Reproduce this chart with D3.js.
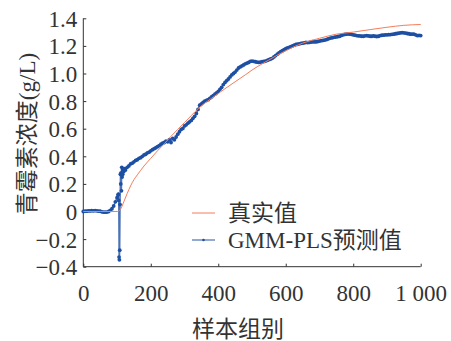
<!DOCTYPE html>
<html>
<head>
<meta charset="utf-8">
<script src="https://cdn.jsdelivr.net/npm/d3@7"></script>
<style>
  body { margin: 0; background: #fff; }
  svg text { font-family: "Liberation Serif", "Noto Sans CJK SC", serif; fill: #333; }
</style>
</head>
<body>
<svg id="chart" width="451" height="341"></svg>
<script>
// x ticks / y ticks as drawn on the figure
const xTicks = [0, 200, 400, 600, 800, 1000];
const yTicks = [-0.4, -0.2, 0, 0.2, 0.4, 0.6, 0.8, 1.0, 1.2, 1.4];

// true value curve (sample, g/L)
const trueX = [0, 50, 100, 105, 110, 120, 130, 140, 150, 160, 180, 200, 220, 240, 260, 280, 300, 320, 340, 360, 380, 400, 420, 450, 480, 500, 530, 550, 580, 600, 630, 650, 700, 750, 800, 850, 900, 950, 1000];
const trueY = [0, 0, 0, 0.003, 0.015, 0.07, 0.13, 0.185, 0.23, 0.265, 0.33, 0.385, 0.44, 0.49, 0.545, 0.595, 0.645, 0.695, 0.745, 0.785, 0.82, 0.855, 0.89, 0.94, 0.99, 1.025, 1.07, 1.098, 1.14, 1.165, 1.2, 1.22, 1.255, 1.285, 1.30, 1.318, 1.335, 1.349, 1.355];

// GMM-PLS predicted values
const predX = [0, 5, 10, 15, 20, 25, 30, 35, 40, 45, 50, 55, 60, 65, 70, 75, 80, 85, 90, 95, 100, 103, 104, 105, 106, 107, 108, 109, 110, 111, 112, 113, 114, 115, 116, 117, 118, 120, 122, 125, 130, 135, 140, 145, 150, 155, 160, 165, 170, 175, 180, 185, 190, 195, 200, 205, 210, 215, 220, 225, 230, 235, 240, 245, 250, 255, 260, 265, 270, 275, 280, 285, 290, 295, 300, 305, 310, 315, 320, 325, 330, 335, 340, 345, 350, 355, 360, 365, 370, 375, 380, 385, 390, 395, 400, 405, 410, 415, 420, 425, 430, 435, 440, 445, 450, 455, 460, 465, 470, 475, 480, 485, 490, 495, 500, 505, 510, 515, 520, 525, 530, 535, 540, 545, 550, 555, 560, 565, 570, 575, 580, 585, 590, 595, 600, 605, 610, 615, 620, 625, 630, 635, 640, 645, 650, 655, 660, 665, 670, 675, 680, 685, 690, 695, 700, 705, 710, 715, 720, 725, 730, 735, 740, 745, 750, 755, 760, 765, 770, 775, 780, 785, 790, 795, 800, 805, 810, 815, 820, 825, 830, 835, 840, 845, 850, 855, 860, 865, 870, 875, 880, 885, 890, 895, 900, 905, 910, 915, 920, 925, 930, 935, 940, 945, 950, 955, 960, 965, 970, 975, 980, 985, 990, 995, 1000];
const predY = [0.0, 0.003, 0.002, 0.005, 0.004, 0.006, 0.005, 0.007, 0.005, 0.003, 0.002, -0.002, -0.004, -0.005, -0.004, 0.0, 0.008, 0.02, 0.04, 0.07, 0.1, 0.12, 0.125, 0.08, -0.33, -0.35, -0.28, 0.05, 0.27, 0.2, 0.28, 0.15, 0.32, 0.25, 0.3, 0.27, 0.31, 0.29, 0.31, 0.3, 0.32, 0.33, 0.345, 0.35, 0.36, 0.37, 0.375, 0.385, 0.39, 0.4, 0.41, 0.415, 0.425, 0.43, 0.44, 0.448, 0.455, 0.462, 0.47, 0.478, 0.488, 0.495, 0.5, 0.51, 0.505, 0.52, 0.5, 0.53, 0.52, 0.54, 0.56, 0.578, 0.595, 0.602, 0.62, 0.628, 0.64, 0.65, 0.66, 0.675, 0.69, 0.71, 0.74, 0.77, 0.78, 0.79, 0.8, 0.805, 0.81, 0.82, 0.83, 0.84, 0.85, 0.86, 0.87, 0.885, 0.9, 0.92, 0.935, 0.948, 0.96, 0.975, 0.99, 1.0, 1.01, 1.025, 1.04, 1.048, 1.055, 1.062, 1.07, 1.075, 1.08, 1.088, 1.09, 1.088, 1.085, 1.082, 1.08, 1.083, 1.085, 1.087, 1.09, 1.095, 1.1, 1.105, 1.11, 1.12, 1.13, 1.14, 1.15, 1.158, 1.165, 1.172, 1.18, 1.185, 1.19, 1.195, 1.2, 1.205, 1.21, 1.212, 1.215, 1.218, 1.22, 1.222, 1.225, 1.224, 1.225, 1.228, 1.23, 1.229, 1.23, 1.232, 1.235, 1.238, 1.24, 1.242, 1.245, 1.25, 1.255, 1.258, 1.26, 1.263, 1.265, 1.268, 1.27, 1.276, 1.28, 1.283, 1.285, 1.287, 1.285, 1.283, 1.28, 1.278, 1.275, 1.273, 1.272, 1.27, 1.27, 1.273, 1.275, 1.272, 1.27, 1.27, 1.272, 1.27, 1.268, 1.27, 1.275, 1.277, 1.278, 1.28, 1.28, 1.281, 1.282, 1.284, 1.285, 1.288, 1.29, 1.292, 1.295, 1.296, 1.295, 1.293, 1.29, 1.288, 1.285, 1.286, 1.285, 1.28, 1.275, 1.276, 1.275];

const legendLabels = ['真实值', 'GMM-PLS预测值'];
const trueColour = '#f47d5b';
const predColour = '#1d4fa3';

const svg = d3.select('#chart');

// plot box
const plotLeft = 83.3, plotRight = 420.7, plotTop = 18.3, plotBottom = 266.7;

const x = d3.scaleLinear().domain([0, 1000]).range([plotLeft, plotRight]);
const y = d3.scaleLinear().domain([-0.4, 1.4]).range([plotBottom, plotTop]);

const fmtY = d => d === 0 ? '0' : d3.format('.1f')(d).replace('-', '\u2212');
const fmtX = d => d === 1000 ? '1 000' : String(d);

// axes, ticks pointing into the plot
const yAxis = d3.axisLeft(y).tickValues(yTicks).tickSize(-3).tickPadding(6).tickFormat(fmtY);
const xAxis = d3.axisBottom(x).tickValues(xTicks).tickSize(-3).tickPadding(18).tickFormat(fmtX);

svg.append('g').attr('transform', `translate(${plotLeft},0)`).call(yAxis)
    .call(g => g.select('.domain').attr('stroke', '#333').attr('d', `M0,${plotTop}V${plotBottom}`))
    .call(g => g.selectAll('.tick line').attr('stroke', '#333'))
    .call(g => g.selectAll('.tick text').style('font-size', '23px').attr('dy', '0.35em'));

svg.append('g').attr('transform', `translate(0,${plotBottom})`).call(xAxis)
    .call(g => g.select('.domain').attr('stroke', '#333').attr('d', `M${plotLeft},0H${plotRight}`))
    .call(g => g.selectAll('.tick line').attr('stroke', '#333'))
    .call(g => g.selectAll('.tick text').style('font-size', '23px'));

// curves
const trueData = trueX.map((d, i) => [d, trueY[i]]);
const predData = predX.map((d, i) => [d, predY[i]]);

const line = d3.line().x(d => x(d[0])).y(d => y(d[1]));

svg.append('path').datum(predData)
    .attr('fill', 'none').attr('stroke', predColour).attr('stroke-width', 1.4).attr('opacity', 0.8)
    .attr('d', line);

// dense markers give the thick, rough blue band
svg.append('g').selectAll('circle').data(predData).join('circle')
    .attr('cx', d => x(d[0])).attr('cy', d => y(d[1])).attr('r', 1.9)
    .attr('fill', predColour);

svg.append('path').datum(trueData)
    .attr('fill', 'none').attr('stroke', trueColour).attr('stroke-width', 1)
    .attr('d', d3.line().curve(d3.curveMonotoneX).x(d => x(d[0])).y(d => y(d[1])));

// legend
const legend = svg.append('g').attr('transform', 'translate(192,213)');
legend.append('line').attr('x1', 0).attr('x2', 23).attr('y1', 0).attr('y2', 0)
    .attr('stroke', trueColour).attr('stroke-width', 1);
legend.append('line').attr('x1', 0).attr('x2', 23).attr('y1', 27).attr('y2', 27)
    .attr('stroke', predColour).attr('stroke-width', 1.2).attr('opacity', 0.8);
legend.append('circle').attr('cx', 11.5).attr('cy', 27).attr('r', 1.3).attr('fill', predColour);
legend.selectAll('text').data(legendLabels).join('text')
    .attr('x', 36).attr('y', (d, i) => i * 27 + 8)
    .style('font-size', '23px')
    .text(d => d);

// axis titles
svg.append('text').attr('x', 238).attr('y', 337).attr('text-anchor', 'middle')
    .style('font-size', '23px').text('样本组别');
svg.append('text').attr('transform', 'translate(35,134) rotate(-90)').attr('text-anchor', 'middle')
    .style('font-size', '23px').text('青霉素浓度(g/L)');
</script>
</body>
</html>
